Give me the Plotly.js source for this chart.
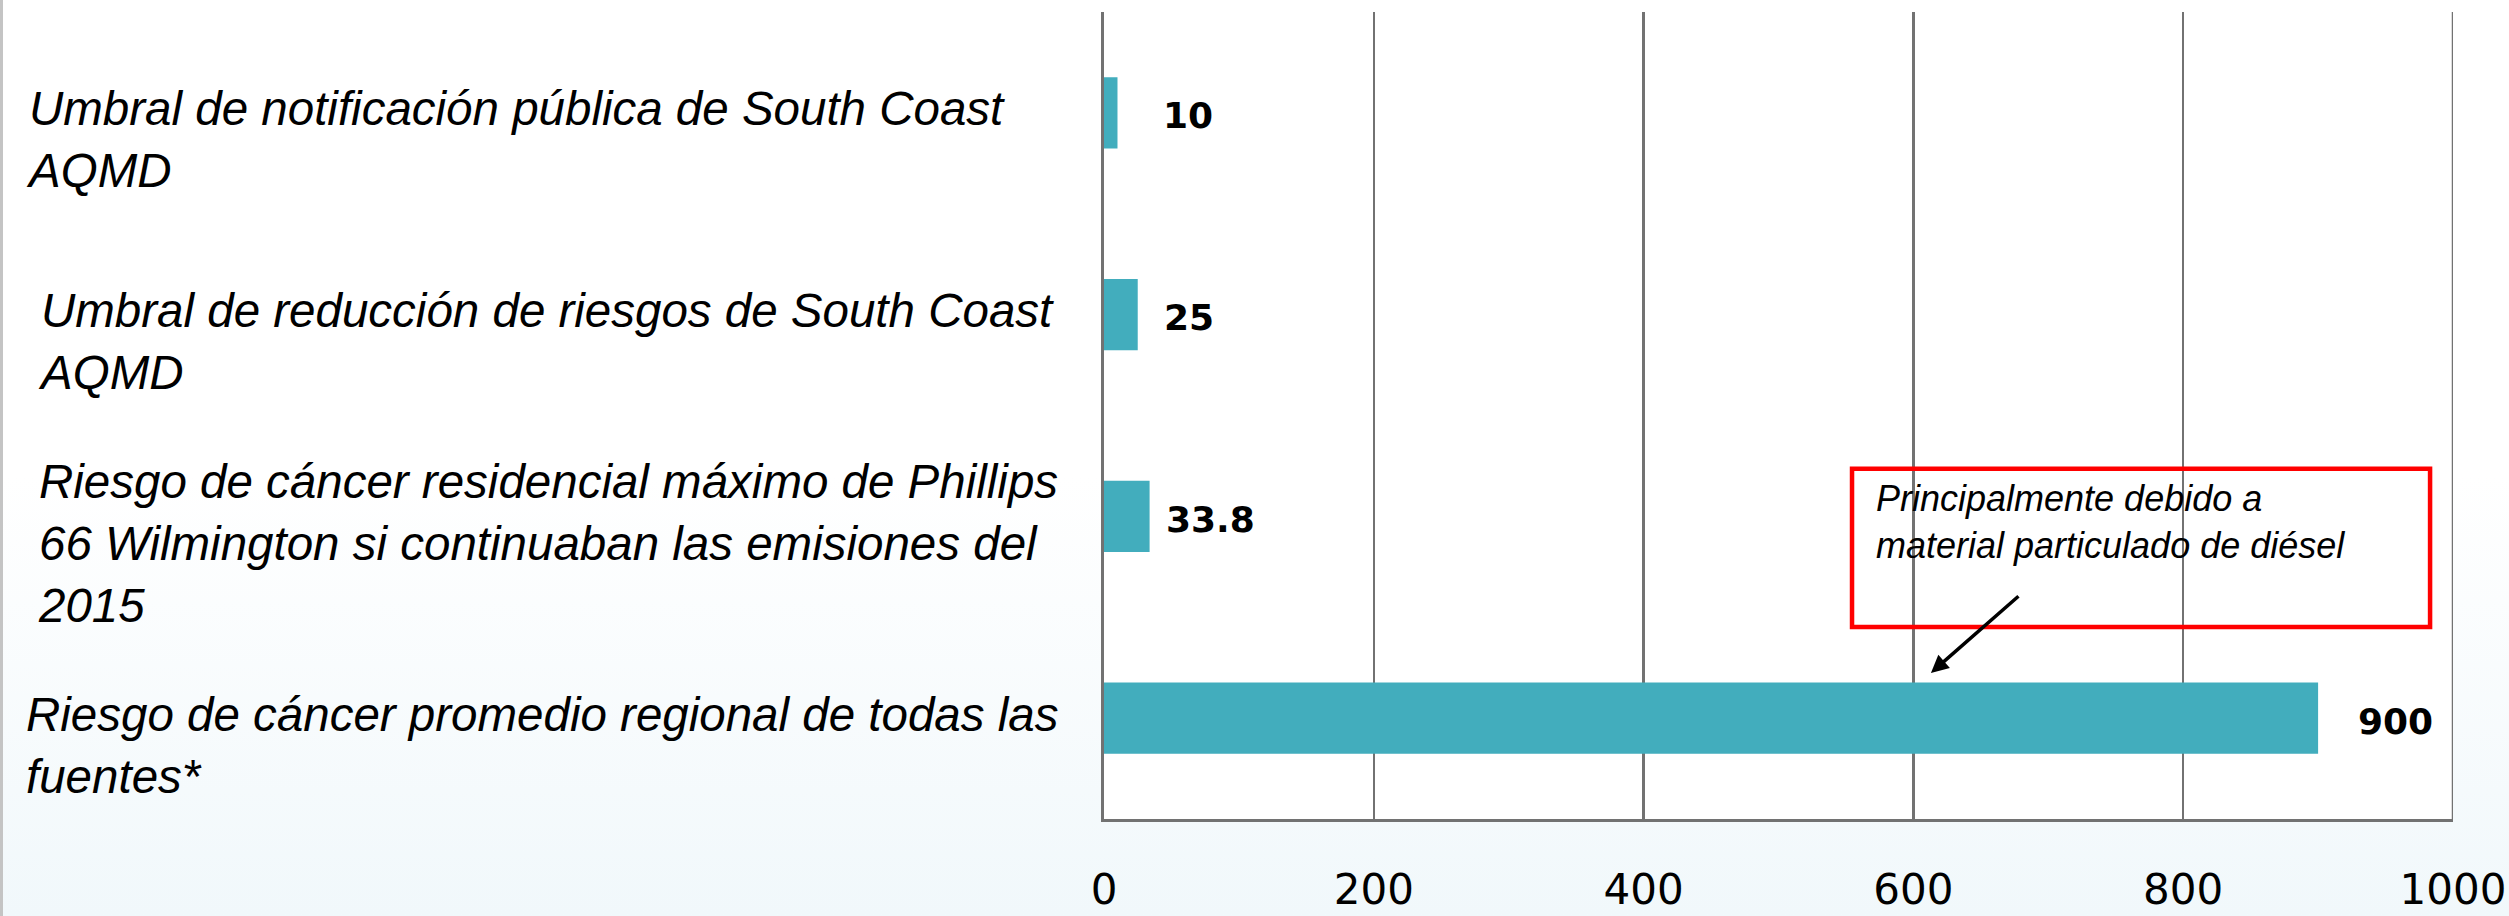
<!DOCTYPE html>
<html>
<head>
<meta charset="utf-8">
<script src="https://cdn.plot.ly/plotly-3.0.1.min.js"></script>
<style>
  html, body { margin: 0; padding: 0; }
  body {
    width: 2509px; height: 916px; overflow: hidden; position: relative;
    background: linear-gradient(to bottom, #ffffff 0%, #ffffff 52%, #f1f8fb 100%);
  }
  #edge { position: absolute; left: 0; top: 0; width: 3px; height: 916px; background: #c4c4c4; z-index: 5; }
  #chart { width: 2509px; height: 916px; }
</style>
</head>
<body>
<div id="edge"></div>
<div id="chart"></div>
<script>
// ---- data ----
const categories = [
  "Umbral de notificación pública de South Coast<br>AQMD",
  "Umbral de reducción de riesgos de South Coast<br>AQMD",
  "Riesgo de cáncer residencial máximo de Phillips<br>66 Wilmington si continuaban las emisiones del<br>2015",
  "Riesgo de cáncer promedio regional de todas las<br>fuentes*"
];
const values = [10, 25, 33.8, 900];
const valueLabels = ["10", "25", "33.8", "900"];
const tickValues = [0, 200, 400, 600, 800, 1000];
const tickLabels = ["0", "200", "400", "600", "800", "1000"];
const noteText = "Principalmente debido a<br>material particulado de diésel";

// ---- style ----
const barColor = "#42adbd";
const gridColor = "#727272";
const labelIndent = [-1080, -1068, -1068, -1080];   // px shift of category labels
const valueShift = [44, 24, 14, 38];                 // px gap between bar end and value label

const annotations = [];
categories.forEach((c, i) => {
  annotations.push({
    xref: "paper", yref: "y", x: 0, y: c,
    xanchor: "left", yanchor: "middle", align: "left",
    xshift: labelIndent[i], yshift: -27,
    text: c, showarrow: false,
    font: { family: "Liberation Sans, Arial, sans-serif", size: 47.5, color: "#000000", style: "italic" }
  });
  annotations.push({
    xref: "x", yref: "y", x: values[i], y: c,
    xanchor: "left", yanchor: "middle",
    xshift: valueShift[i], yshift: -3,
    text: valueLabels[i], showarrow: false,
    font: { family: "DejaVu Sans, sans-serif", size: 36, color: "#000000", weight: "bold" }
  });
});
// note text
annotations.push({
  xref: "x", yref: "paper", x: 571, y: 0.425,
  xanchor: "left", yanchor: "top", align: "left",
  text: noteText, showarrow: false,
  font: { family: "Liberation Sans, Arial, sans-serif", size: 36, color: "#000000", style: "italic" }
});
// arrow
annotations.push({
  xref: "x", yref: "paper", x: 613, y: 0.181,
  ax: 89, ay: -78, text: "", showarrow: true,
  arrowhead: 2, arrowsize: 1, arrowwidth: 3.5, arrowcolor: "#000000"
});

const trace = {
  type: "bar", orientation: "h",
  x: values, y: categories,
  width: 0.352,
  marker: { color: barColor },
  hoverinfo: "x+y"
};

const layout = {
  width: 2509, height: 916, autosize: false,
  margin: { l: 1104, r: 56, t: 12, b: 97, pad: 0 },
  paper_bgcolor: "rgba(0,0,0,0)",
  plot_bgcolor: "#ffffff",
  showlegend: false,
  xaxis: {
    range: [0, 1000], tickvals: tickValues, ticktext: tickLabels,
    showgrid: true, gridcolor: gridColor, gridwidth: 2.5,
    zeroline: false, showline: true, linecolor: gridColor, linewidth: 3,
    ticks: "", ticklabelstandoff: 32,
    tickfont: { family: "DejaVu Sans, sans-serif", size: 42, color: "#000000" },
    fixedrange: true
  },
  yaxis: {
    type: "category", range: [3.5, -0.5],
    showticklabels: false, showgrid: false, zeroline: false,
    showline: true, linecolor: gridColor, linewidth: 3, ticks: "",
    fixedrange: true
  },
  shapes: [
    { type: "line", xref: "x", yref: "paper", x0: 1000, x1: 1000, y0: 0, y1: 1,
      line: { color: gridColor, width: 2.5 } },
    { type: "rect", xref: "x", yref: "paper", x0: 554.5, x1: 983, y0: 0.238, y1: 0.434,
      line: { color: "#ff0000", width: 4.5 }, fillcolor: "rgba(255,255,255,0)" }
  ],
  annotations: annotations
};

Plotly.newPlot("chart", [trace], layout, { displayModeBar: false, staticPlot: true });
</script>
</body>
</html>
